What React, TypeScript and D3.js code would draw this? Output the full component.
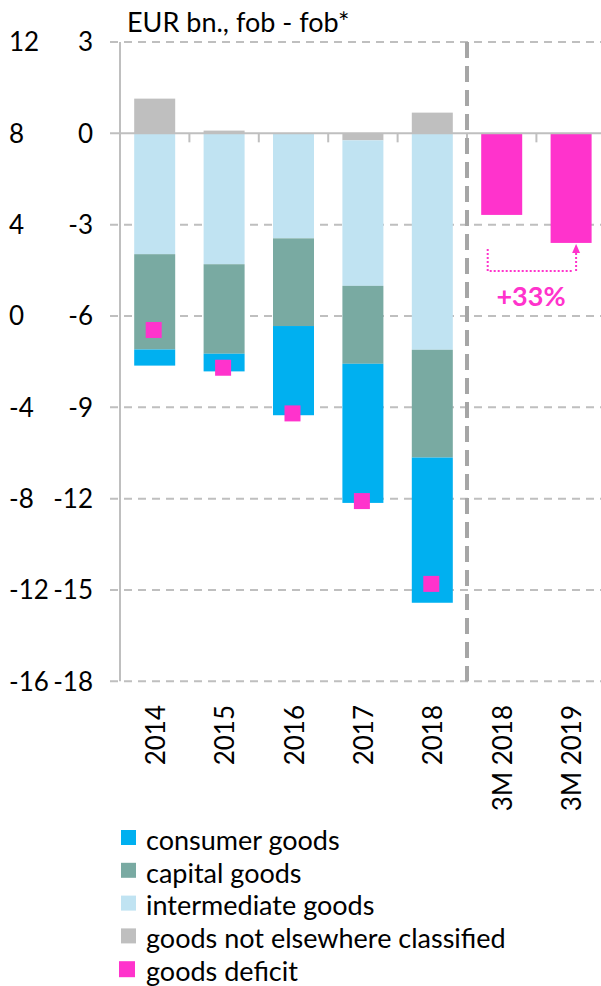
import React from "react";
import * as d3 from "d3";

const categories = ["2014", "2015", "2016", "2017", "2018", "3M 2018", "3M 2019"];
const consumerGoods = [-0.53, -0.58, -2.93, -4.57, -4.77, 0, 0];
const capitalGoods = [-3.13, -2.94, -2.88, -2.56, -3.54, 0, 0];
const intermediateGoods = [-3.97, -4.3, -3.45, -4.78, -7.11, 0, 0];
const goodsNec = [1.14, 0.09, 0, -0.23, 0.68, 0, 0];
const quarterDeficit = [null, null, null, null, null, -2.68, -3.6];
const goodsDeficit = [-6.46, -7.7, -9.2, -12.08, -14.8, null, null];
const innerTicks = [3, 0, -3, -6, -9, -12, -15, -18];
const outerTicks = [12, 8, 4, 0, -4, -8, -12, -16];
const legendItems = [
  { key: "consumer", label: "consumer goods", color: "#00B0F0" },
  { key: "capital", label: "capital goods", color: "#79AAA2" },
  { key: "intermediate", label: "intermediate goods", color: "#C0E3F2" },
  { key: "nec", label: "goods not elsewhere classified", color: "#BFBFBF" },
  { key: "deficit", label: "goods deficit", color: "#FF33CC" },
];

const FONT = "Lato, 'Open Sans', sans-serif";
const PINK = "#FF33CC";
const GRID = "#BFBFBF";
const FS = 27;
const TFS = 26;

export default function App() {
  const W = 601;
  const H = 986;
  const x0 = 120;
  const x1 = 605.8;
  const yTop = 42;
  const yBot = 681.3;

  const band = d3.scaleBand<string>().domain(categories).range([x0, x1]);
  const y = d3.scaleLinear().domain([-18, 3]).range([yBot, yTop]);
  const yOuter = d3.scaleLinear().domain([-16, 12]).range([yBot, yTop]);

  const rows = categories.map((c, i) => ({
    cat: c,
    nec: goodsNec[i],
    intermediate: intermediateGoods[i],
    capital: capitalGoods[i],
    consumer: consumerGoods[i],
  }));
  const keys = ["nec", "intermediate", "capital", "consumer"];
  const colorOf: Record<string, string> = {
    nec: "#BFBFBF",
    intermediate: "#C0E3F2",
    capital: "#79AAA2",
    consumer: "#00B0F0",
  };
  const series = d3.stack<any>().keys(keys).offset(d3.stackOffsetDiverging)(rows);

  const bw = 41;
  const sepX = band(categories[5])!;
  const sq = 16;

  const x3a = band(categories[5])! + band.bandwidth() / 2;
  const x3b = band(categories[6])! + band.bandwidth() / 2;
  const arrowLeft = x3a - 14;
  const arrowRight = x3b + 5;
  const yArrowTop = y(quarterDeficit[5]!) + 34;
  const yArrowBase = y(quarterDeficit[6]!) + 28;
  const yArrowTip = y(quarterDeficit[6]!) + 1;

  return (
    <svg width={W} height={H} style={{ position: "absolute", left: 0, top: 0, background: "#fff" }} fontFamily={FONT}>
      {/* title */}
      <text x={127} y={32} fontSize={FS} fill="#000">EUR bn., fob - fob*</text>

      {/* gridlines */}
      {innerTicks.filter((t) => t !== 0).map((t) => (
        <line key={t} x1={110} x2={W} y1={y(t)} y2={y(t)} stroke={GRID} strokeWidth={2} strokeDasharray="8,6" />
      ))}

      {/* bars */}
      {series.map((s) => (
        <g key={s.key} fill={colorOf[s.key]}>
          {s.map((d, i) => {
            const top = y(Math.max(d[0], d[1]));
            const bot = y(Math.min(d[0], d[1]));
            if (bot - top < 0.01) return null;
            const cx = band(categories[i])! + band.bandwidth() / 2;
            return <rect key={i} x={cx - bw / 2} y={top} width={bw} height={bot - top} />;
          })}
        </g>
      ))}
      {quarterDeficit.map((v, i) => {
        if (v == null) return null;
        const cx = band(categories[i])! + band.bandwidth() / 2;
        return <rect key={i} x={cx - bw / 2} y={y(0)} width={bw} height={y(v) - y(0)} fill={PINK} />;
      })}

      {/* axes */}
      <line x1={x0} x2={x0} y1={yTop} y2={yBot} stroke={GRID} strokeWidth={2} />
      <line x1={110} x2={W} y1={y(0)} y2={y(0)} stroke={GRID} strokeWidth={2} />
      {categories.slice(1).map((c) => (
        <line key={c} x1={band(c)!} x2={band(c)!} y1={y(0)} y2={y(0) + 9} stroke={GRID} strokeWidth={2} />
      ))}
      <line x1={sepX} x2={sepX} y1={yTop} y2={yBot} stroke="#A6A6A6" strokeWidth={4} strokeDasharray="16,8" />

      {/* deficit markers */}
      {goodsDeficit.map((v, i) => {
        if (v == null) return null;
        const cx = band(categories[i])! + band.bandwidth() / 2;
        return <rect key={i} x={cx - sq / 2 - 1} y={y(v) - sq / 2} width={sq} height={sq} fill={PINK} />;
      })}

      {/* y axis labels */}
      {innerTicks.map((t) => (
        <text key={t} x={93} y={y(t)} dy="0.36em" textAnchor="end" fontSize={TFS} fill="#000">{t}</text>
      ))}
      {outerTicks.map((t) => (
        <text key={t} x={9} y={yOuter(t)} dy="0.36em" textAnchor="start" fontSize={TFS} fill="#000">{t}</text>
      ))}

      {/* x labels */}
      {categories.map((c) => {
        const cx = band(c)! + band.bandwidth() / 2;
        return (
          <text key={c} transform={`translate(${cx + 10},${705}) rotate(-90)`} textAnchor="end" fontSize={TFS} fill="#000">{c}</text>
        );
      })}

      {/* annotation */}
      <path d={`M${arrowLeft},${yArrowTop} V${yArrowBase} H${arrowRight - 4}`} fill="none" stroke={PINK} strokeWidth={2} strokeDasharray="2,2" />
      <path d={`M${arrowRight},${yArrowBase} V${yArrowTip + 8}`} fill="none" stroke={PINK} strokeWidth={2} strokeDasharray="2,2" />
      <path d={`M${arrowRight - 4},${yArrowTip + 9} L${arrowRight + 4},${yArrowTip + 9} L${arrowRight},${yArrowTip} Z`} fill={PINK} />
      <text x={531} y={306} textAnchor="middle" fontSize={FS} fontWeight="bold" fill={PINK}>+33%</text>

      {/* legend */}
      {legendItems.map((it, i) => {
        const cy = 840 + i * 32.8;
        return (
          <g key={it.key}>
            <rect x={it.key === "deficit" ? 119 : 121} y={cy - 10} width={it.key === "deficit" ? 16 : 15} height={it.key === "deficit" ? 16 : 15} fill={it.color} />
            <text x={146} y={cy} dy="0.36em" fontSize={FS} fill="#000">{it.label}</text>
          </g>
        );
      })}
    </svg>
  );
}
